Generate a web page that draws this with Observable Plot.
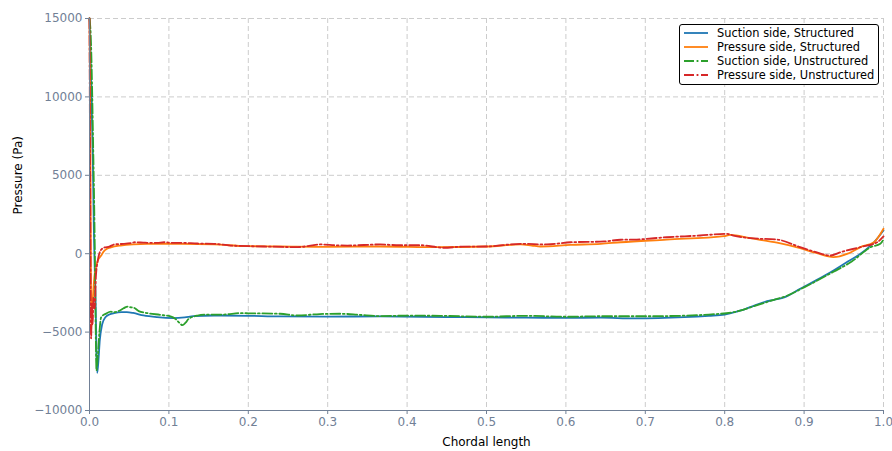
<!DOCTYPE html>
<html>
<head>
<meta charset="utf-8">
<script src="https://cdn.jsdelivr.net/npm/d3@7"></script>
<script src="https://cdn.jsdelivr.net/npm/@observablehq/plot@0.6"></script>
<style>
  body { margin: 0; background: #fff; font-family: "DejaVu Sans", sans-serif; }
  #chart { position: relative; width: 892px; height: 451px; }
  .legend { position: absolute; left: 679px; top: 24px; width: 200px; height: 61px;
    border: 1px solid #000; border-radius: 3px; background: #fff; box-sizing: border-box;
    padding: 1px 0 0 4px; font-size: 11.4px; color: #000; }
  .legend .row { height: 14px; display: flex; align-items: center; white-space: nowrap; }
  .legend svg { margin-right: 9px; flex: none; }
</style>
</head>
<body>
<div id="chart"></div>
<script>
// Surface pressure along the blade chord, structured vs unstructured meshes
const suctionStructured = [
  [0, 15000], [0.002, 11000], [0.0042, 5900], [0.0055, 1500], [0.0065, -800], [0.0075, -2500],
  [0.0085, -5500], [0.0097, -7600], [0.011, -7000], [0.013, -5500], [0.016, -4500], [0.02, -4050],
  [0.025, -3880], [0.031, -3790], [0.04, -3730], [0.047, -3730], [0.055, -3780], [0.068, -3940],
  [0.085, -4050], [0.106, -4110], [0.12, -4060], [0.131, -3980], [0.157, -3940], [0.2, -3960],
  [0.24, -4000], [0.3, -4010], [0.366, -4000], [0.45, -4040], [0.5, -4060], [0.55, -4080],
  [0.6, -4090], [0.644, -4080], [0.686, -4130], [0.749, -4050], [0.78, -3960], [0.8, -3880],
  [0.815, -3700], [0.832, -3410], [0.85, -3080], [0.862, -2940], [0.874, -2800], [0.895, -2240],
  [0.915, -1700], [0.937, -1070], [0.955, -500], [0.971, 0], [0.988, 730], [1.0, 1480]
];
const pressureStructured = [
  [0, 15000], [0.001, 8000], [0.0022, -4800], [0.0035, -3500], [0.0063, -1390], [0.01, -500],
  [0.0147, -120], [0.018, 150], [0.022, 310], [0.027, 400], [0.039, 520], [0.055, 600],
  [0.073, 630], [0.115, 630], [0.157, 590], [0.198, 480], [0.24, 460], [0.3, 430], [0.366, 460],
  [0.438, 420], [0.5, 460], [0.543, 590], [0.557, 520], [0.568, 460], [0.606, 560], [0.644, 630],
  [0.669, 730], [0.727, 900], [0.799, 1120], [0.807, 1200], [0.832, 990], [0.866, 700],
  [0.895, 350], [0.915, 50], [0.937, -220], [0.955, 0], [0.971, 420], [0.988, 730], [1.0, 1590]
];
const suctionUnstructured = [
  [0, 15000], [0.0015, 14000], [0.0047, 6600], [0.0065, 1000], [0.0075, -3500], [0.0088, -7450],
  [0.0105, -6500], [0.0125, -5000], [0.0147, -4050], [0.021, -3820], [0.027, -3700], [0.031, -3730],
  [0.037, -3650], [0.043, -3480], [0.048, -3370], [0.052, -3420], [0.056, -3450], [0.062, -3660],
  [0.073, -3790], [0.089, -3900], [0.102, -4000], [0.108, -4150], [0.113, -4400], [0.117, -4560],
  [0.121, -4400], [0.125, -4150], [0.136, -3950], [0.15, -3880], [0.169, -3880], [0.19, -3790],
  [0.2, -3800], [0.24, -3830], [0.262, -3940], [0.29, -3850], [0.316, -3830], [0.34, -3900],
  [0.366, -3980], [0.4, -3950], [0.45, -3970], [0.5, -4020], [0.55, -3960], [0.6, -4020],
  [0.644, -3990], [0.7, -3990], [0.75, -3950], [0.78, -3880], [0.811, -3730], [0.84, -3300],
  [0.862, -2940], [0.875, -2750], [0.9, -2150], [0.937, -1150], [0.96, -500], [0.984, 420],
  [0.996, 630], [1.0, 900]
];
const pressureUnstructured = [
  [0, 15000], [0.001, 3000], [0.002, -5400], [0.003, -3200], [0.004, -4500], [0.005, -2800],
  [0.0065, -3500], [0.008, -1500], [0.0105, -430], [0.014, 200], [0.019, 400], [0.025, 450],
  [0.031, 590], [0.04, 620], [0.052, 670], [0.057, 730], [0.07, 700], [0.085, 690], [0.094, 730],
  [0.105, 690], [0.115, 690], [0.136, 650], [0.157, 630], [0.178, 520], [0.22, 460], [0.262, 420],
  [0.291, 590], [0.31, 540], [0.325, 520], [0.366, 590], [0.39, 540], [0.417, 540], [0.446, 380],
  [0.47, 450], [0.5, 460], [0.543, 630], [0.576, 590], [0.606, 730], [0.648, 780], [0.669, 890],
  [0.686, 900], [0.727, 1050], [0.769, 1160], [0.803, 1270], [0.811, 1160], [0.832, 990],
  [0.866, 900], [0.895, 420], [0.915, 100], [0.933, -115], [0.946, 100], [0.971, 420],
  [0.992, 730], [1.0, 1100]
];

const seriesNames = [
  "Suction side, Structured", "Pressure side, Structured",
  "Suction side, Unstructured", "Pressure side, Unstructured"
];
const seriesColors = ["#1f77b4", "#ff7f0e", "#2ca02c", "#d62728"];
const seriesDash = [null, null, "10,2.6,1.8,2.6", "10,2.6,1.8,2.6"];
const seriesData = [suctionStructured, pressureStructured, suctionUnstructured, pressureUnstructured];

const xTicks = [0, 0.1, 0.2, 0.3, 0.4, 0.5, 0.6, 0.7, 0.8, 0.9, 1.0];
const yTicks = [-10000, -5000, 0, 5000, 10000, 15000];

const axisColor = "#718096";
const lineMarks = seriesData.map((data, i) =>
  Plot.line(data, {
    x: d => d[0], y: d => d[1], stroke: seriesColors[i], strokeWidth: 1.8,
    strokeDasharray: seriesDash[i], curve: "monotone-x"
  })
);

const chart = Plot.plot({
  width: 892, height: 451,
  marginLeft: 89, marginRight: 9, marginTop: 18, marginBottom: 41,
  style: { fontFamily: "DejaVu Sans, sans-serif", background: "#fff" },
  x: { domain: [0, 1] },
  y: { domain: [-10000, 15000] },
  marks: [
    Plot.gridX(xTicks, { stroke: "#cccccc", strokeOpacity: 1, strokeDasharray: "5,3" }),
    Plot.gridY(yTicks, { stroke: "#cccccc", strokeOpacity: 1, strokeDasharray: "5,3" }),
    ...lineMarks,
    Plot.ruleX([0], { stroke: axisColor, strokeWidth: 1 }),
    Plot.ruleY([-10000], { stroke: axisColor, strokeWidth: 1 }),
    Plot.axisX(xTicks, { tickSize: 4, tickPadding: 3, fontSize: 12, color: axisColor,
      tickFormat: d3.format(".1f"), label: null }),
    Plot.axisY(yTicks, { tickSize: 4, tickPadding: 3, fontSize: 12, color: axisColor,
      tickFormat: d3.format("d"), label: null }),
    Plot.text(["Chordal length"], { frameAnchor: "bottom", dy: 35, fontSize: 12, fill: "#000" }),
    Plot.text(["Pressure (Pa)"], { frameAnchor: "left", dx: -71, rotate: -90, fontSize: 12, fill: "#000" })
  ]
});

const root = document.getElementById("chart");
root.appendChild(chart);

// Legend box in the upper right
const legend = document.createElement("div");
legend.className = "legend";
seriesNames.forEach((name, i) => {
  const row = document.createElement("div");
  row.className = "row";
  const dash = seriesDash[i] ? ` stroke-dasharray="${seriesDash[i]}"` : "";
  row.innerHTML = `<svg width="24" height="6"><line x1="0" y1="3" x2="24" y2="3" stroke="${seriesColors[i]}" stroke-width="1.8"${dash}/></svg><span>${name}</span>`;
  legend.appendChild(row);
});
root.appendChild(legend);
</script>
</body>
</html>
